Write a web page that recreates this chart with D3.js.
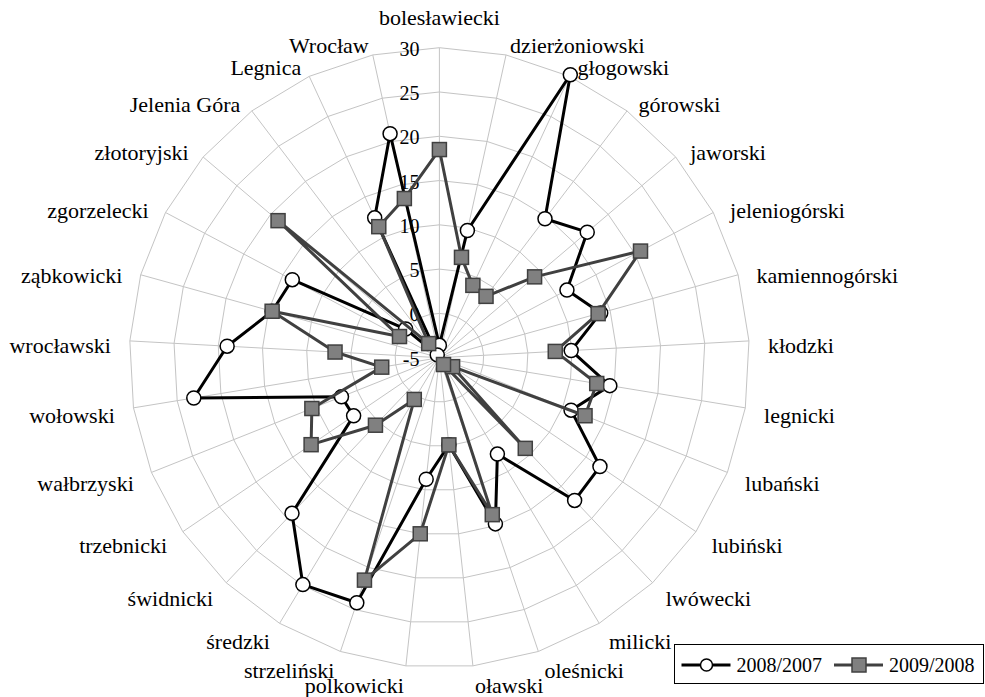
<!DOCTYPE html>
<html>
<head>
<meta charset="utf-8">
<script src="https://cdn.jsdelivr.net/npm/d3@7"></script>
<style>
	body { margin: 0; background: #fff; }
	svg { display: block; }
</style>
</head>
<body>
<svg id="chart" width="985" height="697"></svg>
<script>
var categories = ["bolesławiecki", "dzierżoniowski", "głogowski", "górowski", "jaworski",
	"jeleniogórski", "kamiennogórski", "kłodzki", "legnicki", "lubański", "lubiński",
	"lwówecki", "milicki", "oleśnicki", "oławski", "polkowicki", "strzeliński", "średzki",
	"świdnicki", "trzebnicki", "wałbrzyski", "wołowski", "wrocławski", "ząbkowicki",
	"zgorzelecki", "złotoryjski", "Jelenia Góra", "Legnica", "Wrocław"];

var seriesNames = ["2008/2007", "2009/2008"];

var values2008 = [-3.6, 9.7, 30.2, 14.7, 16.9, 11.3, 13.9, 9.9, 14.5, 11.0, 16.9, 17.2, 7.7, 14.8,
	4.9, 8.8, 24.2, 24.9, 19.2, 6.7, 6.9, 23.1, 19.0, 14.6, 13.8, 0.0, -4.6, 12.4, 20.9];

var values2009 = [18.5, 6.6, 4.0, 3.7, 9.1, 20.7, 13.6, 8.1, 13.0, 12.7, -3.2, 9.1, -4.1, 13.7,
	4.9, 15.0, 21.5, 0.5, 5.5, 12.5, 10.5, 1.6, 6.8, 14.6, 0.1, 18.9, -3.0, 11.3, 13.4];

var tickValues = [-5, 0, 5, 10, 15, 20, 25, 30];

var CX = 439.4, CY = 357.7, RADIUS = 310;
var FONT = "\"Liberation Serif\", \"Times New Roman\", serif";
var GRID_COLOR = "#c4c4c4";

var svg = d3.select("#chart");
var plot = svg.append("g").attr("transform", "translate(" + CX + "," + CY + ")");

var r = d3.scaleLinear().domain([-5, 30]).range([0, RADIUS]);
var angle = d3.scaleLinear().domain([0, categories.length]).range([0, 2 * Math.PI]);

function px(i, v) { return Math.sin(angle(i)) * r(v); }
function py(i, v) { return -Math.cos(angle(i)) * r(v); }

var ring = d3.lineRadial()
	.angle(function(d, i) { return angle(i); })
	.radius(function(d) { return r(d); })
	.curve(d3.curveLinearClosed);

// grid: polygons and spokes
plot.append("g").selectAll("path")
	.data(tickValues.slice(1))
	.enter().append("path")
	.attr("d", function(t) { return ring(categories.map(function() { return t; })); })
	.attr("fill", "none")
	.attr("stroke", GRID_COLOR)
	.attr("stroke-width", 1);

plot.append("g").selectAll("line")
	.data(categories)
	.enter().append("line")
	.attr("x1", 0).attr("y1", 0)
	.attr("x2", function(d, i) { return px(i, 30); })
	.attr("y2", function(d, i) { return py(i, 30); })
	.attr("stroke", GRID_COLOR)
	.attr("stroke-width", 1);

// value axis labels
plot.append("g").selectAll("text")
	.data(tickValues)
	.enter().append("text")
	.attr("x", -20)
	.attr("y", function(t) { return -r(t) + 1; })
	.attr("dy", "0.35em")
	.attr("text-anchor", "end")
	.style("font-family", FONT)
	.style("font-size", "20px")
	.attr("fill", "#000")
	.text(function(t) { return t; });

// category labels, placed off the outer ring end of each spoke
plot.append("g").selectAll("text")
	.data(categories)
	.enter().append("text")
	.style("font-family", FONT)
	.style("font-size", "22px")
	.attr("fill", "#000")
	.attr("dy", "0.35em")
	.each(function(d, i) {
		var a = angle(i), s = Math.sin(a), c = Math.cos(a);
		var x = s * RADIUS, y = -c * RADIUS;
		var anchor = "middle";
		if (Math.abs(s) < 0.05) {
			y -= c * 30;
		} else {
			anchor = s > 0 ? "start" : "end";
			x += s * 19;
			y += -c * 10 + 5 * (1 - c);
		}
		d3.select(this)
			.attr("x", x)
			.attr("y", y)
			.attr("text-anchor", anchor)
			.text(d);
	});

var seriesLine = d3.lineRadial()
	.angle(function(d, i) { return angle(i); })
	.radius(function(d) { return r(d); })
	.curve(d3.curveLinearClosed);

// 2008/2007
plot.append("path")
	.attr("d", seriesLine(values2008))
	.attr("fill", "none")
	.attr("stroke", "#000")
	.attr("stroke-width", 3)
	.attr("stroke-linejoin", "round");

plot.append("g").selectAll("circle")
	.data(values2008)
	.enter().append("circle")
	.attr("cx", function(d, i) { return px(i, d); })
	.attr("cy", function(d, i) { return py(i, d); })
	.attr("r", 7)
	.attr("fill", "#fff")
	.attr("stroke", "#000")
	.attr("stroke-width", 1.5);

// 2009/2008
plot.append("path")
	.attr("d", seriesLine(values2009))
	.attr("fill", "none")
	.attr("stroke", "#404040")
	.attr("stroke-width", 3)
	.attr("stroke-linejoin", "round");

plot.append("g").selectAll("rect")
	.data(values2009)
	.enter().append("rect")
	.attr("x", function(d, i) { return px(i, d) - 7; })
	.attr("y", function(d, i) { return py(i, d) - 7; })
	.attr("width", 14)
	.attr("height", 14)
	.attr("fill", "#808080")
	.attr("stroke", "#404040")
	.attr("stroke-width", 1.5);

// legend
var legend = svg.append("g").attr("transform", "translate(674.5,644.5)");

legend.append("rect")
	.attr("width", 309)
	.attr("height", 39)
	.attr("fill", "#fff")
	.attr("stroke", "#000")
	.attr("stroke-width", 1);

var legendItems = legend.selectAll("g.item")
	.data(seriesNames)
	.enter().append("g")
	.attr("class", "item")
	.attr("transform", function(d, i) { return "translate(" + (7 + i * 152.5) + ",20.5)"; });

legendItems.append("line")
	.attr("x1", 0).attr("x2", 49)
	.attr("y1", 0).attr("y2", 0)
	.attr("stroke", function(d, i) { return i === 0 ? "#000" : "#404040"; })
	.attr("stroke-width", 3);

legendItems.each(function(d, i) {
	var g = d3.select(this);
	if (i === 0) {
		g.append("circle")
			.attr("cx", 25).attr("cy", 0).attr("r", 6)
			.attr("fill", "#fff").attr("stroke", "#000").attr("stroke-width", 1.5);
	} else {
		g.append("rect")
			.attr("x", 18).attr("y", -7).attr("width", 14).attr("height", 14)
			.attr("fill", "#808080").attr("stroke", "#404040").attr("stroke-width", 1.5);
	}
});

legendItems.append("text")
	.attr("x", 55)
	.attr("y", 0)
	.attr("dy", "0.35em")
	.style("font-family", FONT)
	.style("font-size", "20px")
	.attr("fill", "#000")
	.text(function(d) { return d; });
</script>
</body>
</html>
